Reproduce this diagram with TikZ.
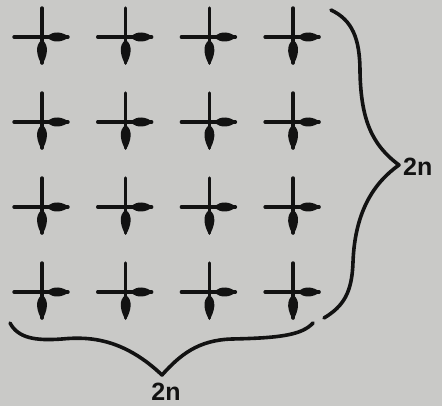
\documentclass[tikz,border=0pt]{standalone}
\usepackage{fontspec}
\setsansfont{Liberation Sans}
\begin{document}
\begin{tikzpicture}[x=1pt, y=-1pt, line cap=round, line join=round]
  \definecolor{paper}{RGB}{201,201,199}
  \definecolor{ink}{RGB}{18,18,18}
  \tikzset{
    stroke/.style={ink, line width=3.4pt},
    brace/.style={ink, line width=3.6pt},
    lbl/.style={ink, font=\sffamily\bfseries\fontsize{25}{25}\selectfont, inner sep=0pt},
    spincross/.pic={
      \draw[stroke] (-28,0) -- (26,0);
      \draw[stroke] (0,-29) -- (0,26);
      % spindle on the right arm
      \fill[ink] (5,0) .. controls (11,-7) and (21,-5) .. (27,0)
                       .. controls (21,5) and (11,7) .. (5,0);
      % spindle on the lower arm
      \fill[ink] (0,3) .. controls (-8,8) and (-5,20) .. (0,28)
                       .. controls (5,20) and (8,8) .. (0,3);
    }
  }
  \fill[paper] (0,0) rectangle (442,406);
  \useasboundingbox (0,0) rectangle (442,406);
  \foreach \i in {0,...,3}
    \foreach \j in {0,...,3}
      \pic at ({42+83.7*\i},{37+85*\j}) {spincross};
  % right brace
  \draw[brace] (331,10) .. controls (352,20) and (360,38) .. (360,72)
    .. controls (361,120) and (372,145) .. (399,165)
    .. controls (375,182) and (355,210) .. (353,262)
    .. controls (352,292) and (344,306) .. (324,318);
  % bottom brace
  \draw[brace] (10,323) .. controls (18,338) and (35,341) .. (62,339)
    .. controls (92,336) and (125,340) .. (162,375)
    .. controls (180,355) and (198,340) .. (232,339)
    .. controls (280,338) and (302,335) .. (313,323);
  \node[lbl, anchor=west] (rlab) at (403,167) {2n};
  \node[lbl] (blab) at (166,392) {2n};
\end{tikzpicture}
\end{document}
